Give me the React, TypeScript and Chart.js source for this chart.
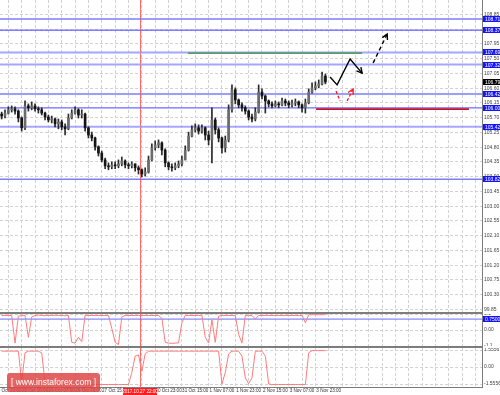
import React, { useEffect, useRef } from "react";
import { Chart, registerables } from "chart.js";

Chart.register(...registerables);

const FONT = "'Liberation Sans', Arial, sans-serif";

// ---------------- time axis ----------------
const timeLabels = [
  "24 Oct 23:00", "25 Oct 15:00", "26 Oct 07:00", "26 Oct 23:00", "27 Oct 15:00",
  "30 Oct 07:00", "30 Oct 23:00", "31 Oct 15:00", "1 Nov 07:00", "1 Nov 23:00",
  "2 Nov 15:00", "3 Nov 07:00", "3 Nov 23:00",
];
const cursorLabel = "2017.10.27 22:00";
const cursorBar = 41.45;

// ---------------- price candles ----------------
const firstOpen = 105.81;
const closes = [
  105.75, 105.84, 105.94, 105.97, 105.90, 105.69, 105.39, 106.06, 106.00, 106.06,
  105.97, 105.94, 105.84, 105.72, 105.63, 105.66, 105.51, 105.57, 105.42, 105.36,
  105.69, 105.84, 105.94, 105.78, 105.81, 105.39, 105.17, 105.08, 104.81, 104.62,
  104.41, 104.23, 104.20, 104.26, 104.23, 104.29, 104.38, 104.26, 104.23, 104.29,
  104.17, 104.11, 103.98, 104.04, 104.41, 104.78, 104.87, 104.93, 104.71, 104.32,
  104.20, 104.17, 104.23, 104.29, 104.41, 104.71, 105.14, 105.33, 105.39, 105.29,
  105.39, 105.17, 105.02, 105.63, 105.33, 105.08, 104.78, 105.02, 105.94, 106.55,
  106.24, 106.09, 106.00, 105.90, 105.72, 105.66, 105.87, 106.48, 106.36, 106.21,
  106.12, 106.06, 106.12, 106.09, 106.21, 106.15, 106.09, 106.15, 106.18, 106.09,
  106.00, 106.15, 106.48, 106.61, 106.67, 106.73, 106.97, 106.79,
];
const highs = [
  105.87, 105.94, 106.03, 106.06, 106.03, 105.94, 105.72, 106.21, 106.12, 106.18,
  106.12, 106.03, 106.00, 105.87, 105.78, 105.75, 105.69, 105.66, 105.63, 105.51,
  105.81, 105.94, 106.03, 105.97, 105.94, 105.84, 105.42, 105.26, 105.11, 104.84,
  104.68, 104.47, 104.32, 104.35, 104.35, 104.41, 104.50, 104.41, 104.32, 104.35,
  104.29, 104.23, 104.14, 104.17, 104.53, 104.90, 104.99, 105.02, 104.96, 104.75,
  104.35, 104.29, 104.32, 104.38, 104.53, 104.84, 105.26, 105.45, 105.51, 105.48,
  105.48, 105.42, 105.29, 106.00, 105.69, 105.39, 105.11, 105.14, 106.09, 106.70,
  106.61, 106.27, 106.15, 106.06, 105.94, 105.81, 106.00, 106.70, 106.58, 106.39,
  106.24, 106.18, 106.21, 106.18, 106.30, 106.27, 106.21, 106.24, 106.27, 106.21,
  106.12, 106.27, 106.58, 106.76, 106.79, 106.85, 107.09, 107.03,
];
const lows = [
  105.66, 105.69, 105.81, 105.87, 105.81, 105.57, 105.29, 105.33, 105.90, 105.94,
  105.90, 105.84, 105.78, 105.63, 105.57, 105.54, 105.42, 105.36, 105.33, 105.17,
  105.33, 105.66, 105.81, 105.69, 105.69, 105.29, 105.08, 104.99, 104.71, 104.53,
  104.35, 104.14, 104.11, 104.14, 104.14, 104.17, 104.23, 104.17, 104.14, 104.17,
  104.07, 103.98, 103.89, 103.92, 104.01, 104.38, 104.71, 104.78, 104.56, 104.20,
  104.11, 104.07, 104.11, 104.17, 104.23, 104.41, 104.68, 105.11, 105.26, 105.20,
  105.23, 105.02, 104.87, 104.32, 105.20, 104.96, 104.62, 104.65, 104.96, 105.87,
  106.12, 106.00, 105.90, 105.81, 105.63, 105.57, 105.60, 105.84, 106.27, 105.84,
  106.03, 106.00, 106.03, 106.00, 106.06, 106.06, 106.00, 106.03, 106.06, 106.00,
  105.87, 105.84, 106.12, 106.45, 106.55, 106.61, 106.70, 106.73,
];

// ---------------- price axis & levels ----------------
const priceTicks = [
  108.85, 108.40, 107.95, 107.50, 107.05, 106.60, 106.15, 105.70, 105.25, 104.80,
  104.35, 103.90, 103.45, 103.00, 102.55, 102.10, 101.65, 101.20, 100.75, 100.30, 99.85,
];
const lightLevels = [107.69, 107.32, 105.42];
const mediumLevels = [108.71, 108.37, 106.42, 103.82];
const darkLevels = [106.00];
const currentPrice = 106.79;

const targetPrice = 107.67;
const targetFromBar = 55.8;
const targetToBar = 108.0;
const stopPrice = 105.96;
const stopFromBar = 94.2;
const stopToBar = 140.0;

const zigzagBars = [98.4, 100.5, 104.4, 108.0];
const zigzagPrices = [106.94, 106.70, 107.49, 107.06];
const breakoutBars = [111.3, 115.5];
const breakoutPrices = [107.37, 108.25];
const pullbackBars = [100.2, 101.4];
const pullbackPrices = [106.51, 106.21];
const reboundBars = [103.5, 105.3];
const reboundPrices = [106.21, 106.57];

// ---------------- oscillators ----------------
const osc1 = [
  1.0, 1.0, 1.0, 1.0, -0.9, 0.95, 1.0, 1.0, -0.5, 0.9,
  1.0, 1.02, 1.0, 0.98, 1.0, 1.0, 1.02, 1.0, 1.0, 0.98,
  1.0, -0.85, -0.9, -0.5, -0.8, 1.0, 1.0, 1.0, 1.0, 1.0,
  1.0, 1.0, 1.0, 0.1, -0.85, -1.0, 0.9, 1.0, 1.0, 1.0,
  1.0, 1.0, 1.0, 1.0, 1.0, 1.0, 1.0, 1.0, 0.8, -0.85,
  -0.9, -0.92, -0.9, -0.88, 0.5, 1.0, 1.0, 1.0, 1.0, 1.0,
  1.0, -0.5, -0.9, 0.7, -0.85, 0.95, 1.0, 1.0, 1.0, 1.0,
  1.0, -0.3, -0.9, 1.0, 1.0, 1.0, 0.75, 1.0, 1.0, 1.0,
  1.0, 1.0, 1.0, 1.0, 1.0, 1.0, 1.0, 1.0, 1.0, 1.0,
  1.0, 0.5, 1.05, 1.05, 1.05, 1.05, 1.05, 1.05,
];
const osc1Ticks = [1.1, 0, -1.1];
const osc1TickLabels = ["1.1", "0.00", "-1.1"];
const osc1Level = 0.75;
const osc1LevelLabel = "0.7500";

const osc2 = [
  1.45, 1.45, 1.45, 1.45, 1.45, 1.45, -1.4, 1.3, 1.45, 1.45,
  1.45, 1.45, 1.3, -1.4, -1.6, -1.6, -1.6, -1.6, -1.6, -1.6,
  -1.6, -1.6, -1.6, -1.6, -1.6, -1.6, -1.6, -1.6, -1.6, -1.6,
  -1.6, -1.6, -1.6, -1.6, -1.6, -1.6, -1.6, -1.6, -1.6, -0.5,
  1.0, 1.1, -0.4, 1.2, 1.45, 1.45, 1.45, 1.45, 1.45, 1.45,
  1.45, 1.45, 1.45, 1.45, 1.45, 1.45, 1.45, 1.45, 1.45, 1.45,
  1.45, 1.45, 1.45, 1.45, 1.45, 1.45, -1.55, -0.5, 1.2, 1.45,
  1.45, 1.45, 1.0, -1.0, -1.5, -1.0, 1.45, 1.45, 1.45, 1.0,
  -1.55, -1.6, -1.6, -1.6, -1.6, -1.6, -1.6, -1.6, -1.6, -1.6,
  -1.6, -1.6, 1.3, 1.5, 1.5, 1.5, 1.5, 1.5,
];
const osc2Ticks = [1.5556, 0, -1.5556];
const osc2TickLabels = ["1.5556", "0.00", "-1.5556"];

// ---------------- layout constants ----------------
const X_MIN = -0.5;
const X_MAX = 143.92;
const GRID_START = 2;
const GRID_STEP = 4;
const AXIS_W = 18;
const GRID_COLOR = "#d2d2d2";
const AXIS_COLOR = "#7c7c7c";

function gridTicks() {
  const t: { value: number }[] = [];
  for (let v = GRID_START; v <= X_MAX; v += GRID_STEP) t.push({ value: v });
  return t;
}

function xAxis(showLabels: boolean) {
  return {
    type: "linear",
    min: X_MIN,
    max: X_MAX,
    offset: false,
    afterBuildTicks: (s: any) => {
      s.ticks = gridTicks();
    },
    afterFit: (s: any) => {
      s.height = showLabels ? 8 : 0;
      s.paddingLeft = 0;
      s.paddingRight = 0;
    },
    grid: { color: GRID_COLOR, lineWidth: 1, drawTicks: false, offset: false },
    border: { display: showLabels, color: AXIS_COLOR, width: 1, dash: [3, 2] },
    ticks: {
      display: showLabels,
      autoSkip: false,
      maxRotation: 0,
      minRotation: 0,
      padding: 1,
      color: "#333",
      font: { size: 4.6, family: FONT },
      callback: (v: number) => {
        const k = Math.round((v - GRID_START) / GRID_STEP);
        if (k % 2 !== 0) return "";
        return timeLabels[k / 2] ?? "";
      },
    },
  };
}

function yAxis(min: number, max: number, ticks: number[], fmt: (v: number, i: number) => string) {
  return {
    position: "right",
    min,
    max,
    afterBuildTicks: (s: any) => {
      s.ticks = ticks.map((v) => ({ value: v }));
    },
    afterFit: (s: any) => {
      s.width = AXIS_W;
      s.paddingTop = 0;
      s.paddingBottom = 0;
    },
    grid: { color: GRID_COLOR, lineWidth: 1, drawTicks: false },
    border: { display: true, color: AXIS_COLOR, width: 1, dash: [3, 2] },
    ticks: {
      autoSkip: false,
      padding: 2,
      color: "#444",
      font: { size: 5, family: FONT },
      callback: (v: number, i: number) => fmt(v, i),
    },
  };
}

type Box = { value: number; text: string; color: string };

function makeOverlay(boxes: Box[], cursorBox: boolean) {
  return {
    id: "overlay",
    beforeDatasetsDraw(chart: any) {
      const ctx = chart.ctx;
      const xs = chart.scales.x;
      const cx = Math.round(xs.getPixelForValue(cursorBar)) + 0.5;
      ctx.save();
      ctx.strokeStyle = "#ff6a6a";
      ctx.lineWidth = 1;
      ctx.beginPath();
      ctx.moveTo(cx, 0);
      ctx.lineTo(cx, chart.height);
      ctx.stroke();
      ctx.restore();
    },
    afterDatasetsDraw(chart: any) {
      const ctx = chart.ctx;
      chart.data.datasets.forEach((ds: any, i: number) => {
        if (!ds.arrowHead) return;
        const pts = chart.getDatasetMeta(i).data;
        if (pts.length < 2) return;
        const a = pts[pts.length - 2];
        const b = pts[pts.length - 1];
        const ang = Math.atan2(b.y - a.y, b.x - a.x);
        const L = 6;
        ctx.save();
        ctx.strokeStyle = ds.borderColor;
        ctx.lineWidth = ds.borderWidth;
        ctx.setLineDash([]);
        ctx.beginPath();
        ctx.moveTo(b.x - L * Math.cos(ang - 0.5), b.y - L * Math.sin(ang - 0.5));
        ctx.lineTo(b.x, b.y);
        ctx.lineTo(b.x - L * Math.cos(ang + 0.5), b.y - L * Math.sin(ang + 0.5));
        ctx.stroke();
        ctx.restore();
      });
    },
    afterDraw(chart: any) {
      const ctx = chart.ctx;
      const ys = chart.scales.y;
      const xs = chart.scales.x;
      const right = chart.chartArea.right;
      ctx.save();
      boxes.forEach((b) => {
        const y = Math.round(ys.getPixelForValue(b.value));
        ctx.fillStyle = b.color;
        ctx.fillRect(right + 1, y - 3, AXIS_W - 1, 6);
        ctx.fillStyle = "#fff";
        ctx.font = `5px ${FONT}`;
        ctx.textBaseline = "middle";
        ctx.textAlign = "left";
        ctx.fillText(b.text, right + 3, y + 0.5);
      });
      if (cursorBox) {
        const cx = xs.getPixelForValue(cursorBar);
        const top = chart.chartArea.bottom + 1;
        ctx.fillStyle = "#ff1e1e";
        ctx.fillRect(cx - 17, top, 34, chart.height - top);
        ctx.fillStyle = "#fff";
        ctx.font = `4.6px ${FONT}`;
        ctx.textAlign = "center";
        ctx.textBaseline = "middle";
        ctx.fillText(cursorLabel, cx, top + (chart.height - top) / 2);
      }
      ctx.restore();
    },
  };
}

function lineDs(xsArr: number[], ysArr: number[], color: string, width: number, extra: any = {}) {
  return {
    type: "line",
    data: xsArr.map((x, i) => ({ x, y: ysArr[i] })),
    borderColor: color,
    borderWidth: width,
    pointRadius: 0,
    tension: 0,
    fill: false,
    ...extra,
  };
}

function levelDs(p: number, color: string, width: number) {
  return lineDs([X_MIN - 1, X_MAX + 1], [p, p], color, width, { order: 5 });
}

export default function App() {
  const c1 = useRef<HTMLCanvasElement>(null);
  const c2 = useRef<HTMLCanvasElement>(null);
  const c3 = useRef<HTMLCanvasElement>(null);

  useEffect(() => {
    const opens = closes.map((c, i) => (i === 0 ? firstOpen : closes[i - 1]));
    const wicks = closes.map((c, i) => ({
      x: i,
      y: [Math.min(lows[i], opens[i], c), Math.max(highs[i], opens[i], c)],
    }));
    const bodies = closes.map((c, i) => ({ x: i, y: [opens[i], c] }));
    const bodyColors = closes.map((c, i) => (c >= opens[i] ? "#6c6c6c" : "#141414"));

    const priceBoxes: Box[] = [
      ...mediumLevels.map((v) => ({ value: v, text: v.toFixed(2), color: "#1414ff" })),
      ...lightLevels.map((v) => ({ value: v, text: v.toFixed(2), color: "#1414ff" })),
      ...darkLevels.map((v) => ({ value: v, text: v.toFixed(2), color: "#1414ff" })),
      { value: currentPrice, text: currentPrice.toFixed(2), color: "#000" },
    ];

    const chart1 = new Chart(c1.current as HTMLCanvasElement, {
      type: "bar",
      data: {
        datasets: [
          ...lightLevels.map((p) => levelDs(p, "rgba(150,150,255,0.85)", 2)),
          ...mediumLevels.map((p) => levelDs(p, "rgba(110,110,255,0.9)", 1.5)),
          ...darkLevels.map((p) => levelDs(p, "#6a6aff", 1.2)),
          {
            type: "bar",
            data: wicks,
            backgroundColor: "#2a2a2a",
            barThickness: 1,
            grouped: false,
            order: 3,
          },
          {
            type: "bar",
            data: bodies,
            backgroundColor: bodyColors,
            barThickness: 2,
            minBarLength: 1,
            grouped: false,
            order: 2,
          },
          lineDs([targetFromBar, targetToBar], [targetPrice, targetPrice], "#2f8f2f", 1.2, { order: 1 }),
          lineDs([stopFromBar, stopToBar], [stopPrice, stopPrice], "#c8102e", 1.6, { order: 1 }),
          lineDs(zigzagBars, zigzagPrices, "#000", 1.4, { order: 0, arrowHead: true }),
          lineDs(breakoutBars, breakoutPrices, "#000", 1.4, { order: 0, arrowHead: true, borderDash: [4, 3] }),
          lineDs(pullbackBars, pullbackPrices, "#ff2020", 1.4, { order: 0, borderDash: [3, 2] }),
          lineDs(reboundBars, reboundPrices, "#ff2020", 1.4, { order: 0, arrowHead: true, borderDash: [3, 2] }),
        ] as any,
      },
      options: {
        animation: false,
        responsive: false,
        devicePixelRatio: 1,
        layout: { padding: 0 },
        plugins: { legend: { display: false }, tooltip: { enabled: false } },
        scales: {
          x: xAxis(false) as any,
          y: yAxis(99.77, 109.29, priceTicks, (v) => v.toFixed(2)) as any,
        },
      },
      plugins: [makeOverlay(priceBoxes, false)],
    });

    const chart2 = new Chart(c2.current as HTMLCanvasElement, {
      type: "line",
      data: {
        datasets: [
          lineDs([X_MIN - 1, X_MAX + 1], [osc1Level, osc1Level], "#6a6aff", 1, { order: 2 }),
          {
            data: osc1.map((v, i) => ({ x: i, y: v })),
            borderColor: "#ff7b7b",
            borderWidth: 1,
            pointRadius: 0,
            tension: 0,
            order: 1,
          },
        ] as any,
      },
      options: {
        animation: false,
        responsive: false,
        devicePixelRatio: 1,
        layout: { padding: 0 },
        plugins: { legend: { display: false }, tooltip: { enabled: false } },
        scales: {
          x: xAxis(false) as any,
          y: yAxis(-1.1, 1.1, osc1Ticks, (_v, i) => osc1TickLabels[i]) as any,
        },
      },
      plugins: [makeOverlay([{ value: osc1Level, text: osc1LevelLabel, color: "#1414ff" }], false)],
    });

    const chart3 = new Chart(c3.current as HTMLCanvasElement, {
      type: "line",
      data: {
        datasets: [
          {
            data: osc2.map((v, i) => ({ x: i, y: v })),
            borderColor: "#ff7b7b",
            borderWidth: 1,
            pointRadius: 0,
            tension: 0,
          },
        ] as any,
      },
      options: {
        animation: false,
        responsive: false,
        devicePixelRatio: 1,
        layout: { padding: 0 },
        plugins: { legend: { display: false }, tooltip: { enabled: false } },
        scales: {
          x: xAxis(true) as any,
          y: yAxis(-1.83, 1.74, osc2Ticks, (_v, i) => osc2TickLabels[i]) as any,
        },
      },
      plugins: [makeOverlay([], true)],
    });

    return () => {
      chart1.destroy();
      chart2.destroy();
      chart3.destroy();
    };
  }, []);

  const sep: React.CSSProperties = {
    position: "absolute",
    left: 0,
    width: 483,
    height: 2,
    background: "#7c7c7c",
  };

  return (
    <div style={{ position: "fixed", left: 0, top: 0, width: 500, height: 395, background: "#fff", overflow: "hidden" }}>
      <canvas ref={c1} width={500} height={312} style={{ position: "absolute", left: 0, top: 0 }} />
      <div style={{ ...sep, top: 312 }} />
      <canvas ref={c2} width={500} height={32} style={{ position: "absolute", left: 0, top: 314 }} />
      <div style={{ ...sep, top: 346 }} />
      <canvas ref={c3} width={500} height={47} style={{ position: "absolute", left: 0, top: 348 }} />
      <div
        style={{
          position: "absolute",
          left: 7,
          top: 373,
          width: 93,
          height: 19,
          borderRadius: 3,
          background: "rgba(222,72,72,0.85)",
          color: "#fff",
          fontFamily: FONT,
          fontSize: 8.5,
          lineHeight: "19px",
          textAlign: "center",
          whiteSpace: "nowrap",
        }}
      >
        [ www.instaforex.com ]
      </div>
    </div>
  );
}
